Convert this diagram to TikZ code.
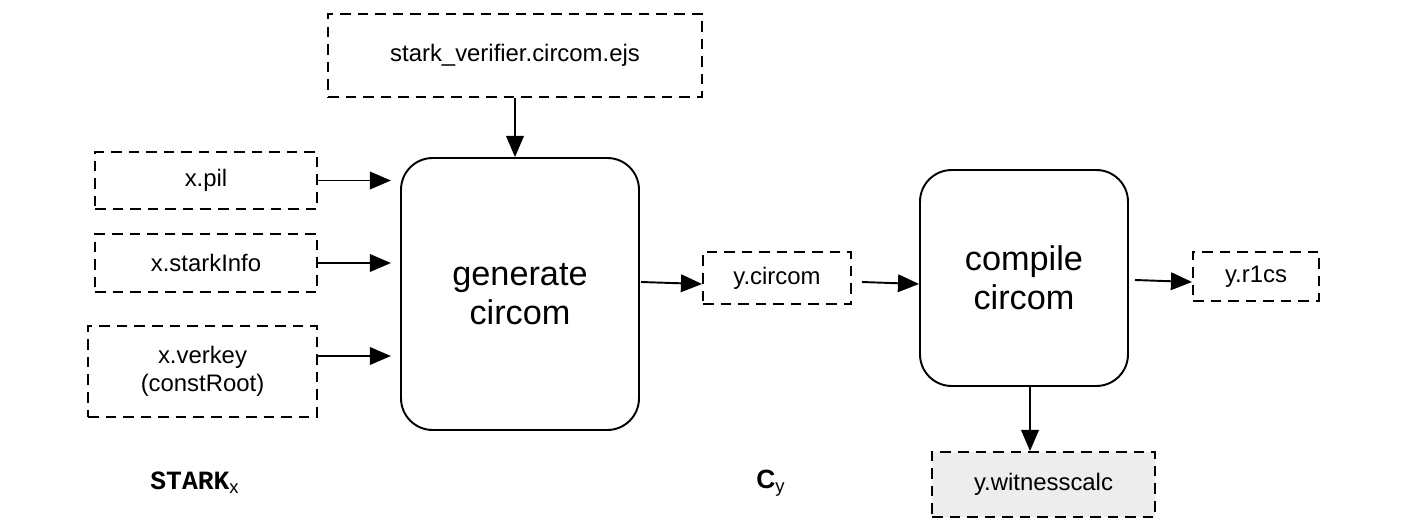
\documentclass[tikz,border=0pt]{standalone}
\usepackage{fontspec}
\setmainfont{Liberation Sans}
\setmonofont{Liberation Mono}
\usetikzlibrary{arrows.meta}
\begin{document}
\begin{tikzpicture}[x=0.02cm,y=-0.02cm,
  file/.style={draw,line width=1.1pt,dash pattern=on 6pt off 4pt,inner sep=0pt,font=\fontsize{13.6}{16}\selectfont,align=center},
  proc/.style={draw,line width=1.1pt,rounded corners=18pt,inner sep=0pt,font=\fontsize{19.5}{22}\selectfont,align=center},
  arr/.style={line width=1.1pt,-{Triangle[length=12pt,width=10pt]}}]
\useasboundingbox (0,0) rectangle (1401,524);
\node[file,minimum width=7.48cm,minimum height=1.66cm] (sv) at (515,55.5) {stark\_verifier.circom.ejs};
\node[file,minimum width=4.44cm,minimum height=1.14cm] (pil) at (206,180.5) {x.pil};
\node[file,minimum width=4.44cm,minimum height=1.16cm] (si) at (206,263) {x.starkInfo};
\node[file,minimum width=4.58cm,minimum height=1.82cm] (vk) at (202.5,371.5) {x.verkey\\(constRoot)};
\node[proc,minimum width=4.76cm,minimum height=5.44cm] (gen) at (520,294) {generate\\circom};
\node[file,minimum width=2.96cm,minimum height=1.04cm] (yc) at (777,278) {y.circom};
\node[proc,minimum width=4.16cm,minimum height=4.32cm] (comp) at (1024,278) {compile\\circom};
\node[file,minimum width=2.52cm,minimum height=0.98cm] (r1) at (1256,276.5) {y.r1cs};
\node[file,fill=black!7,minimum width=4.46cm,minimum height=1.3cm] (wc) at (1043.5,484.5) {y.witnesscalc};
\node[font=\fontsize{15}{18}\selectfont] (sx) at (195,483) {\texttt{\bfseries STARK}\textsubscript{x}};
\node[font=\fontsize{15}{18}\selectfont] (cy) at (771,483) {\textbf{C}\textsubscript{y}};
\draw[arr] (sv.south) -- (sv.south |- gen.north);
\draw[arr] (pil.east) -- ++(73,0);
\draw[arr] (si.east) -- ++(73,0);
\draw[arr] (vk.east |- 0,356) -- ++(73,0);
\draw[arr] (641,282) -- (yc.west |- 0,284);
\draw[arr] (862,282) -- (comp.west |- 0,284);
\draw[arr] (1135,280) -- (r1.west |- 0,282);
\draw[arr] (comp.south -| 1030,0) -- (wc.north -| 1030,0);
\end{tikzpicture}
\end{document}
